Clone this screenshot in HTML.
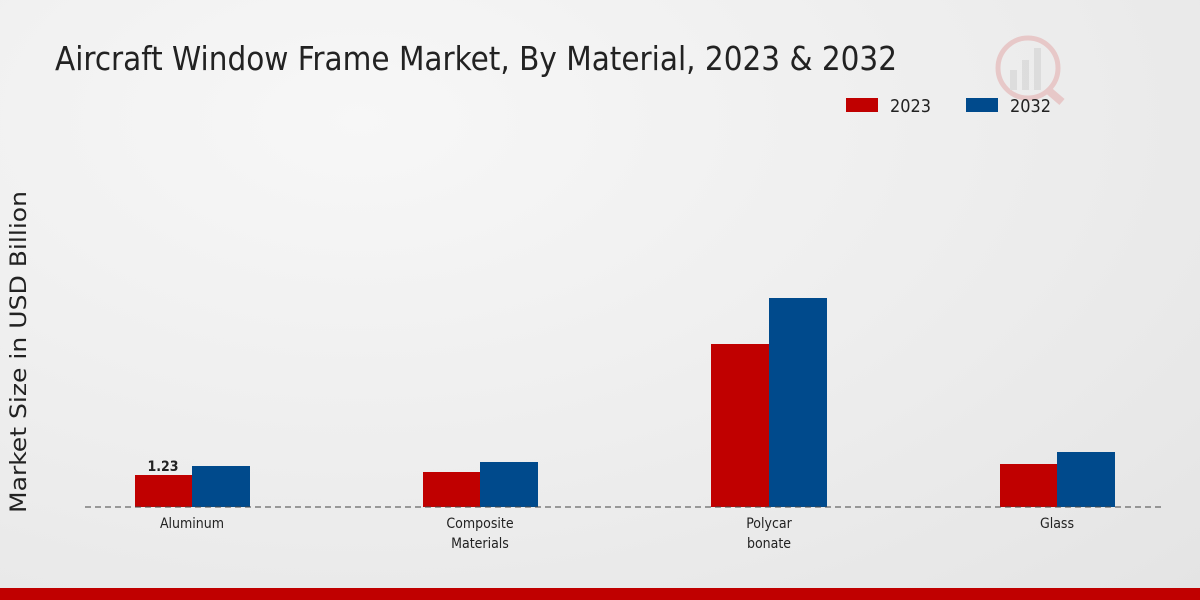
<!DOCTYPE html>
<html><head><style>
html,body{margin:0;padding:0;}
body{width:1200px;height:600px;overflow:hidden;background:radial-gradient(ellipse at 30% 20%,#f7f7f7 0%,#ececec 60%,#e4e4e4 100%);font-family:"DejaVu Sans Condensed","Liberation Sans",sans-serif;}
</style></head><body>
<svg width="1200" height="600" xmlns="http://www.w3.org/2000/svg" style="position:absolute;left:0;top:0">
<text x="55" y="70" font-size="33" fill="#222" textLength="842" lengthAdjust="spacingAndGlyphs" font-family="DejaVu Sans Condensed, Liberation Sans, sans-serif">Aircraft Window Frame Market, By Material, 2023 &amp; 2032</text>
<g opacity="0.15">
<circle cx="1028" cy="68" r="30" fill="none" stroke="#c00" stroke-width="5"/>
<rect x="1010" y="70" width="7" height="20" fill="#888"/>
<rect x="1022" y="60" width="7" height="30" fill="#888"/>
<rect x="1034" y="48" width="7" height="42" fill="#888"/>
<line x1="1048" y1="90" x2="1062" y2="102" stroke="#c00" stroke-width="8"/>
</g>
<rect x="846" y="98" width="32" height="14" fill="#c00000"/>
<text x="890" y="112" font-size="18" fill="#222" textLength="41" lengthAdjust="spacingAndGlyphs">2023</text>
<rect x="966" y="98" width="32" height="14" fill="#004a8c"/>
<text x="1010" y="112" font-size="18" fill="#222" textLength="41" lengthAdjust="spacingAndGlyphs">2032</text>
<text transform="translate(26,352) rotate(-90)" font-size="22" fill="#222" text-anchor="middle" textLength="322" lengthAdjust="spacingAndGlyphs">Market Size in USD Billion</text>
<rect x="135" y="475" width="57" height="32" fill="#c00000"/>
<rect x="192" y="466" width="58" height="41" fill="#004a8c"/>
<rect x="423" y="472" width="57" height="35" fill="#c00000"/>
<rect x="480" y="462" width="58" height="45" fill="#004a8c"/>
<rect x="711" y="344" width="58" height="163" fill="#c00000"/>
<rect x="769" y="298" width="58" height="209" fill="#004a8c"/>
<rect x="1000" y="464" width="57" height="43" fill="#c00000"/>
<rect x="1057" y="452" width="58" height="55" fill="#004a8c"/>
<line x1="85" y1="507" x2="1165" y2="507" stroke="#444" stroke-width="1" stroke-dasharray="6,4"/>
<text x="163" y="471" font-size="14" font-weight="bold" fill="#222" text-anchor="middle">1.23</text>
<g font-size="14" fill="#222" text-anchor="middle">
<text x="192" y="528">Aluminum</text>
<text x="480" y="528">Composite</text>
<text x="480" y="548">Materials</text>
<text x="769" y="528">Polycar</text>
<text x="769" y="548">bonate</text>
<text x="1057" y="528">Glass</text>
</g>
<rect x="0" y="588" width="1200" height="12" fill="#c00000"/>
</svg>
</body></html>
